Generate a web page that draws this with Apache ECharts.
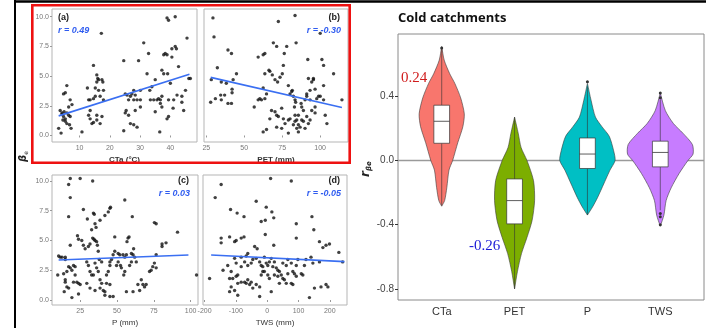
<!DOCTYPE html>
<html><head><meta charset="utf-8">
<script src="https://cdn.jsdelivr.net/npm/echarts@6/dist/echarts.min.js"></script>
<style>html,body{margin:0;padding:0;background:#fff}#c{width:706px;height:328px}</style>
</head><body><div id="c"></div><script>
// ---------- scatter panels: [x, beta_e] ----------
const panelA = [[3.1,0.6],[3.9,0.2],[3.6,2.1],[4.2,1.9],[4.7,1.6],[4.5,1.3],[5.3,1.4],[5.8,1.0],[5.3,1.2],[6.4,1.7],[6.9,1.6],[5.8,1.9],[4.9,2.0],[4.2,1.8],[4.7,3.5],[5.3,3.6],[5.8,4.2],[6.9,3.0],[7.5,2.6],[6.4,2.4],[6.7,0.9],[7.2,0.6],[10.8,0.3],[12.6,4.0],[13.0,3.0],[13.5,2.1],[13.0,1.7],[14.1,1.0],[13.5,3.0],[14.6,3.1],[15.2,3.3],[14.6,5.9],[15.7,5.1],[16.0,4.8],[15.7,4.5],[16.3,3.8],[16.8,3.3],[15.2,4.0],[15.7,1.7],[17.4,1.6],[16.8,1.0],[15.7,1.3],[13.5,1.4],[14.6,1.1],[16.3,4.7],[17.4,4.7],[17.2,8.6],[17.7,4.5],[17.9,3.8],[17.9,3.0],[24.6,6.3],[25.1,3.5],[25.4,2.1],[24.6,0.4],[26.2,3.0],[25.7,3.4],[25.1,1.9],[26.2,1.7],[26.8,1.0],[27.3,3.5],[27.9,3.8],[28.4,3.4],[27.9,0.9],[29.0,0.7],[29.0,3.0],[29.5,6.3],[30.1,3.8],[30.1,3.0],[28.4,2.1],[30.1,2.4],[31.2,7.8],[27.9,3.0],[26.8,3.3],[32.3,5.2],[32.8,6.9],[33.2,3.8],[33.4,3.0],[33.9,4.1],[34.5,3.0],[35.0,4.7],[35.6,3.0],[36.1,3.1],[35.0,2.0],[36.5,0.3],[36.7,3.0],[37.2,3.3],[37.8,5.2],[37.2,5.5],[36.7,2.7],[37.2,2.4],[37.8,6.8],[38.3,6.9],[38.9,9.9],[39.4,9.7],[38.9,6.8],[39.1,5.2],[39.4,3.0],[38.9,1.4],[39.4,1.6],[40.0,4.4],[40.5,6.6],[40.5,7.3],[41.1,3.0],[40.9,2.3],[41.6,10.0],[41.6,7.5],[42.0,7.3],[42.2,3.4],[42.7,5.8],[43.8,2.8],[43.8,3.3],[44.4,2.1],[45.0,3.8],[45.5,8.2],[46.1,4.8],[46.6,4.8]];
const panelB = [[29.4,9.9],[30.1,8.3],[32.3,5.7],[28.3,4.7],[27.9,2.8],[31.0,3.1],[34.9,3.0],[34.5,3.4],[37.1,3.4],[38.2,4.4],[39.3,7.2],[41.6,6.9],[39.3,2.7],[41.6,2.7],[42.0,3.9],[42.0,3.6],[42.7,4.7],[44.9,5.2],[34.9,4.5],[56.6,2.4],[59.2,6.6],[62.5,6.8],[63.6,6.9],[60.3,3.1],[59.2,3.0],[61.4,3.0],[63.6,3.1],[64.7,3.5],[62.5,4.0],[63.6,5.2],[66.9,5.4],[66.3,5.5],[69.2,7.8],[71.4,7.5],[72.5,9.6],[70.3,4.7],[72.0,4.5],[68.5,5.1],[73.6,4.9],[75.1,5.2],[75.8,5.9],[76.4,6.9],[78.0,7.5],[83.5,10.1],[84.2,7.8],[79.1,4.2],[81.3,3.7],[80.2,3.5],[81.7,3.8],[82.4,3.3],[83.5,3.0],[83.9,2.8],[83.1,2.4],[83.5,1.7],[84.6,1.3],[85.7,1.7],[87.9,2.4],[87.5,2.7],[89.0,2.1],[90.1,3.0],[91.2,3.5],[91.2,3.3],[91.9,6.4],[92.3,4.8],[93.4,3.8],[93.4,3.0],[94.5,4.5],[95.6,4.8],[95.6,4.7],[96.7,3.9],[96.7,2.4],[96.7,1.9],[97.8,3.1],[99.0,3.3],[100.1,8.6],[101.2,6.4],[102.3,5.9],[102.3,3.0],[103.4,1.7],[104.5,1.0],[102.3,4.2],[100.1,3.3],[108.9,5.2],[114.4,3.0],[68.0,2.1],[70.3,2.0],[71.4,1.7],[72.5,1.6],[74.7,2.3],[75.8,1.4],[76.9,1.0],[79.1,1.3],[80.2,1.4],[82.4,0.9],[83.5,1.2],[84.6,0.6],[85.7,0.9],[86.8,0.7],[87.9,1.3],[89.0,1.2],[90.1,0.6],[91.2,1.6],[92.3,1.0],[93.4,1.3],[94.5,2.1],[74.7,0.6],[71.4,0.7],[66.9,1.4],[62.5,0.3],[64.7,0.5],[79.1,0.2],[85.7,0.3]];
const panelC = [[18.3,10.2],[25.0,10.2],[33.5,10.0],[17.2,9.7],[18.3,8.6],[17.2,7.0],[27.2,7.6],[29.9,6.8],[34.0,7.3],[34.6,7.2],[35.1,6.4],[35.8,6.1],[38.5,6.7],[41.8,7.1],[44.1,7.4],[45.2,7.7],[45.6,7.8],[48.5,5.3],[55.3,8.4],[56.8,4.9],[58.2,5.3],[57.5,5.2],[60.4,7.0],[61.3,4.3],[75.4,6.5],[76.6,6.4],[83.3,4.8],[91.1,5.7],[80.6,4.7],[80.6,4.5],[18.3,4.6],[23.2,5.4],[23.9,5.1],[26.1,5.0],[27.2,4.6],[28.4,4.3],[30.6,4.5],[31.7,4.7],[32.8,5.9],[33.5,5.2],[34.4,5.1],[35.1,5.0],[36.2,4.9],[36.7,4.6],[37.3,4.1],[10.4,3.7],[12.7,3.6],[14.9,3.4],[13.8,2.2],[16.0,2.4],[17.2,2.8],[18.3,2.7],[19.4,2.5],[20.5,2.9],[21.6,2.8],[21.6,2.1],[22.8,1.5],[23.9,1.4],[25.0,1.3],[20.5,1.5],[14.9,1.5],[16.0,1.1],[17.2,1.0],[19.4,0.2],[14.9,1.7],[9.8,2.1],[14.2,0.7],[29.5,3.2],[30.6,2.9],[31.7,2.4],[32.8,2.1],[34.0,2.1],[35.1,3.1],[36.2,2.7],[37.3,2.4],[38.0,3.4],[39.6,3.2],[38.5,1.7],[39.6,1.4],[38.5,1.0],[40.7,0.8],[41.8,0.7],[42.9,1.4],[42.9,2.1],[44.1,2.4],[45.2,3.2],[46.3,3.4],[45.2,2.9],[47.4,3.8],[48.5,4.1],[49.7,2.9],[50.8,3.2],[50.8,3.9],[51.9,3.8],[54.1,3.8],[52.4,2.9],[53.0,2.7],[54.6,2.1],[55.3,2.4],[55.3,3.6],[56.4,3.8],[58.6,2.9],[59.8,3.9],[59.8,3.2],[60.9,3.8],[62.0,3.6],[63.1,3.2],[64.2,1.3],[60.9,0.7],[65.4,0.8],[66.5,1.7],[67.6,1.3],[68.7,1.1],[69.8,1.3],[72.1,2.4],[73.2,2.5],[74.3,2.8],[76.6,3.8],[75.4,3.1],[76.6,2.7],[23.9,0.5],[31.7,1.0],[35.1,0.8],[41.8,0.4],[45.2,0.3],[56.4,0.7],[14.9,3.6],[11.5,3.6],[104,2.1],[45.2,1.3],[47.4,0.3],[29.5,1.4]];
const panelD = [[-147,9.7],[-166,8.6],[11,10.2],[77,10.0],[-35,8.3],[-117,7.6],[-96,7.3],[-74,7.0],[-3,7.8],[15,7.4],[-6,6.7],[-19,6.6],[21,6.9],[93,6.4],[143,7.0],[149,5.9],[-6,5.5],[-147,5.2],[-147,4.8],[-120,5.3],[-104,4.9],[-99,5.0],[-83,5.2],[-74,5.3],[21,4.6],[93,5.2],[167,4.9],[178,4.4],[188,4.6],[199,4.7],[229,4.0],[241,3.2],[-40,4.5],[-32,4.3],[-62,3.9],[-83,3.6],[-67,3.7],[-104,3.5],[-99,3.1],[-126,2.9],[-141,2.5],[-184,1.8],[-115,2.4],[-110,1.8],[-99,2.0],[-94,2.1],[-83,2.8],[-72,3.2],[-62,2.9],[-51,3.1],[-46,3.4],[-35,3.5],[-24,3.2],[-19,2.9],[-14,2.8],[-9,3.6],[-3,3.1],[2,2.9],[7,3.2],[13,3.5],[18,2.8],[23,3.2],[29,2.7],[34,2.5],[39,2.4],[45,2.1],[50,3.1],[61,2.9],[66,3.4],[77,3.1],[82,2.4],[87,2.2],[93,2.9],[98,3.4],[109,2.2],[114,2.1],[119,2.9],[124,3.4],[140,3.6],[146,3.1],[167,3.2],[188,1.3],[194,1.1],[172,1.1],[151,1.0],[135,0.2],[-83,1.5],[-72,1.5],[-67,1.4],[-62,1.7],[-56,1.3],[-94,1.4],[-120,1.8],[-115,1.1],[-120,0.7],[-104,0.8],[-94,0.4],[-51,1.5],[-35,1.3],[-24,1.1],[-19,2.1],[-14,2.4],[-9,2.4],[2,2.1],[7,1.8],[13,0.7],[23,2.1],[50,1.8],[55,1.7],[61,1.4],[77,1.4],[82,1.3],[93,2.0],[66,2.2],[-46,1.0],[-24,0.3],[34,2.0],[39,1.4]];
// fitted lines (endpoints)
const fitA = [[3.1,1.65],[46.3,5.15]];
const fitB = [[27.9,4.89],[114.4,2.36]];
const fitC = [[10.4,3.36],[98.5,3.78]];
const fitD = [[-179,3.78],[247,3.22]];
const panelR = ['r = 0.49','r = -0.30','r = 0.03','r = -0.05'];
const panelTags = ['(a)','(b)','(c)','(d)'];
const panelXNames = ['CTa (°C)','PET (mm)','P (mm)','TWS (mm)'];
const ticksA = [10,20,30,40], ticksB = [25,50,75,100], ticksC = [25,50,75,100], ticksD = [-200,-100,0,100,200];
const betaTicks = [0,2.5,5,7.5,10];

// ---------- violin panel ----------
const violinCats = ['CTa','PET','P','TWS'];
const violinColors = ['#F8766D','#7CAE00','#00BFC4','#C77CFF'];
// outline: [r value, half-width in category units]
const violinCTa = [[0.71,0],[0.625,0.034],[0.54,0.11],[0.48,0.18],[0.39,0.26],[0.29,0.31],[0.21,0.29],[0.11,0.22],[0,0.15],[-0.06,0.1],[-0.17,0.07],[-0.25,0.04],[-0.285,0]];
const violinPET = [[0.27,0],[0.17,0.05],[0.08,0.09],[0,0.17],[-0.125,0.26],[-0.25,0.275],[-0.375,0.24],[-0.48,0.17],[-0.58,0.095],[-0.69,0.04],[-0.8,0]];
const violinP = [[0.48,0],[0.375,0.05],[0.27,0.11],[0.21,0.2],[0.15,0.3],[0.06,0.36],[0,0.38],[-0.06,0.31],[-0.14,0.23],[-0.23,0.14],[-0.29,0.07],[-0.34,0]];
const violinTWS = [[0.42,0],[0.31,0.07],[0.23,0.18],[0.17,0.31],[0.1,0.44],[0.04,0.45],[0,0.38],[-0.08,0.26],[-0.17,0.15],[-0.25,0.08],[-0.34,0.05],[-0.41,0]];
// box stats: [lower whisker, q1, median, q3, upper whisker]
const boxCTa = [-0.28,0.107,0.244,0.344,0.70];
const boxPET = [-0.80,-0.395,-0.25,-0.115,0.27];
const boxP = [-0.34,-0.05,0.04,0.14,0.46];
const boxTWS = [-0.31,-0.04,0.05,0.12,0.38];
const outCTa = [0.70], outPET = [], outP = [0.49], outTWS = [0.42,0.39,-0.33,-0.35,-0.40];
const violinTicks = [-0.8,-0.4,0,0.4];
const zeroRef = 0;
const medianLabels = [{text:'0.24', color:'#d01c1c'},{text:'-0.26', color:'#1a1ad6'}];

const profiles = [violinCTa, violinPET, violinP, violinTWS];
const boxes = [boxCTa, boxPET, boxP, boxTWS];
const outs = [outCTa, outPET, outP, outTWS];
const boxHalf = 0.108;

const chart = echarts.init(document.getElementById('c'), null, {renderer:'canvas'});
const tickLab = {fontSize:7, color:'#777', margin:3, fontFamily:'Liberation Sans'};
const grids = [
  {left:52, top:9, width:145, height:133},
  {left:204, top:9, width:144, height:133},
  {left:52, top:175, width:146, height:130},
  {left:203, top:175, width:144, height:130},
  {left:398, top:34, width:306, height:266}
].map(g => Object.assign({show:true, borderColor:'#b5b5b5', borderWidth:1, backgroundColor:'#fff'}, g));
grids[4].borderColor = '#8a8a8a';

function scX(idx, min, max, ticks, name, bold){
  return {type:'value', gridIndex:idx, min, max, name, nameLocation:'middle', nameGap:14,
    nameTextStyle:{fontSize:8, fontWeight: bold?'bold':'normal', color:'#333', fontFamily:'Liberation Sans'},
    axisLine:{show:false}, splitLine:{show:false},
    axisTick:{show:true, length:2, lineStyle:{color:'#999'}, customValues:ticks},
    axisLabel:Object.assign({customValues:ticks}, tickLab)};
}
function scY(idx, min, max, showLab){
  return {type:'value', gridIndex:idx, min, max, axisLine:{show:false}, splitLine:{show:false},
    axisTick:{show:showLab, length:2, lineStyle:{color:'#999'}, customValues:betaTicks},
    axisLabel:Object.assign({show:showLab, customValues:betaTicks, formatter:v=>v.toFixed(1)}, tickLab)};
}
const xAxes = [
  scX(0,0.9,48.8,ticksA,panelXNames[0],true),
  scX(1,23.5,118.4,ticksB,panelXNames[1],true),
  scX(2,5.9,105,ticksC,panelXNames[2],false),
  scX(3,-205,255,ticksD,panelXNames[3],false),
  {type:'value', gridIndex:4, min:0.4, max:4.6, axisLine:{show:false}, splitLine:{show:false},
   axisTick:{show:true, length:3, lineStyle:{color:'#333'}, customValues:[1,2,3,4]},
   axisLabel:{customValues:[1,2,3,4], formatter:v=>violinCats[Math.round(v)-1], fontSize:11, color:'#333', margin:6, fontFamily:'Liberation Sans'}}
];
const yAxes = [
  scY(0,-0.55,10.65,true), scY(1,-0.55,10.65,false), scY(2,-0.42,10.5,true), scY(3,-0.42,10.5,false),
  {type:'value', gridIndex:4, min:-0.869, max:0.7875, axisLine:{show:false}, splitLine:{show:false},
   axisTick:{show:true, length:3, lineStyle:{color:'#333'}, customValues:violinTicks},
   axisLabel:{customValues:violinTicks, formatter:v=>v.toFixed(1), fontSize:10, color:'#444', margin:4, fontFamily:'Liberation Sans'}}
];
const panels = [panelA, panelB, panelC, panelD];
const fits = [fitA, fitB, fitC, fitD];
const series = [];
panels.forEach((p,i)=>{
  series.push({type:'scatter', xAxisIndex:i, yAxisIndex:i, data:p, symbolSize:3.4, itemStyle:{color:'#111'}, silent:true, z:2});
  series.push({type:'line', xAxisIndex:i, yAxisIndex:i, data:fits[i], symbol:'none', lineStyle:{color:'#3a6ff2', width:1.6}, silent:true, z:3});
});
series.push({type:'line', xAxisIndex:4, yAxisIndex:4, data:[[0.4,zeroRef],[4.6,zeroRef]], symbol:'none', lineStyle:{color:'#9a9a9a', width:1.5}, silent:true, z:1});
series.push({type:'custom', xAxisIndex:4, yAxisIndex:4, z:3, silent:true,
  data: violinCats.map((c,i)=>[i+1, boxes[i][2]]),
  encode:{x:0, y:1},
  renderItem:(params, api)=>{
    const i = params.dataIndex, cx = i+1, prof = profiles[i], b = boxes[i];
    const right = prof.map(([v,h])=>api.coord([cx+h, v]));
    const left = prof.slice().reverse().map(([v,h])=>api.coord([cx-h, v]));
    const pts = right.concat(left);
    const children = [{type:'polygon', shape:{points:pts, smooth:0.25}, style:{fill:violinColors[i], stroke:'#3a3a3a', lineWidth:0.6}}];
    const p = (x,y)=>api.coord([x,y]);
    const top = p(cx,b[4]), q3 = p(cx,b[3]), q1 = p(cx,b[1]), bot = p(cx,b[0]);
    children.push({type:'line', shape:{x1:top[0],y1:top[1],x2:q3[0],y2:q3[1]}, style:{stroke:'#333', lineWidth:0.6}});
    children.push({type:'line', shape:{x1:q1[0],y1:q1[1],x2:bot[0],y2:bot[1]}, style:{stroke:'#333', lineWidth:0.6}});
    const tl = p(cx-boxHalf,b[3]), br = p(cx+boxHalf,b[1]);
    children.push({type:'rect', shape:{x:tl[0], y:tl[1], width:br[0]-tl[0], height:br[1]-tl[1]}, style:{fill:'#fff', stroke:'#333', lineWidth:0.7}});
    const ml = p(cx-boxHalf,b[2]), mr = p(cx+boxHalf,b[2]);
    children.push({type:'line', shape:{x1:ml[0],y1:ml[1],x2:mr[0],y2:mr[1]}, style:{stroke:'#333', lineWidth:0.8}});
    outs[i].forEach(v=>{ const o = p(cx,v); children.push({type:'circle', shape:{cx:o[0], cy:o[1], r:1.5}, style:{fill:'#333'}}); });
    return {type:'group', children};
  }});

const tagStyle = {fontSize:9, fontWeight:'bold', fill:'#222', fontFamily:'Liberation Sans'};
const rStyle = {fontSize:9, fontWeight:'bold', fontStyle:'italic', fill:'#2f5cf0', fontFamily:'Liberation Sans'};
const graphics = [
  {type:'line', shape:{x1:14, y1:1.5, x2:706, y2:1.5}, style:{stroke:'#000', lineWidth:2.5}, z:100},
  {type:'line', shape:{x1:15, y1:0, x2:15, y2:328}, style:{stroke:'#000', lineWidth:2}, z:100},
  {type:'rect', shape:{x:32.3, y:5.3, width:317.4, height:157.4}, style:{fill:'none', stroke:'#ee1111', lineWidth:2.6}, z:100},
  {type:'text', x:58, y:13, style:Object.assign({text:panelTags[0]}, tagStyle), z:100},
  {type:'text', x:58, y:26, style:Object.assign({text:panelR[0]}, rStyle), z:100},
  {type:'text', x:340, y:13, style:Object.assign({text:panelTags[1], align:'right'}, tagStyle), z:100},
  {type:'text', x:341, y:26, style:Object.assign({text:panelR[1], align:'right'}, rStyle), z:100},
  {type:'text', x:189, y:176, style:Object.assign({text:panelTags[2], align:'right'}, tagStyle), z:100},
  {type:'text', x:190, y:189, style:Object.assign({text:panelR[2], align:'right'}, rStyle), z:100},
  {type:'text', x:340, y:176, style:Object.assign({text:panelTags[3], align:'right'}, tagStyle), z:100},
  {type:'text', x:341, y:189, style:Object.assign({text:panelR[3], align:'right'}, rStyle), z:100},
  {type:'text', x:17, y:162, rotation:Math.PI/2, style:{text:'{b|β}{s|e}', rich:{b:{fontSize:10, fontWeight:'bold', fontStyle:'italic', fill:'#222', fontFamily:'DejaVu Sans'}, s:{fontSize:6, fill:'#222', fontFamily:'DejaVu Sans', padding:[6,0,0,0]}}}, z:100},
  {type:'text', x:398, y:12, style:{text:'Cold catchments', fontSize:13, fontWeight:'bold', fill:'#111', fontFamily:'Open Sans'}, z:100},
  {type:'text', x:359, y:177, rotation:Math.PI/2, style:{text:'{b|r}{s|βe}', rich:{b:{fontSize:12, fontWeight:'bold', fontStyle:'italic', fill:'#222', fontFamily:'DejaVu Sans'}, s:{fontSize:7, fontWeight:'bold', fontStyle:'italic', fill:'#222', fontFamily:'DejaVu Sans', padding:[7,0,0,0]}}}, z:100},
  {type:'text', x:401, y:71, style:{text:medianLabels[0].text, fontSize:15, fill:medianLabels[0].color, fontFamily:'Liberation Serif'}, z:100},
  {type:'text', x:469, y:239, style:{text:medianLabels[1].text, fontSize:15, fill:medianLabels[1].color, fontFamily:'Liberation Serif'}, z:100}
];
chart.setOption({animation:false, backgroundColor:'#fff', grid:grids, xAxis:xAxes, yAxis:yAxes, series, graphic:graphics});
</script></body></html>
